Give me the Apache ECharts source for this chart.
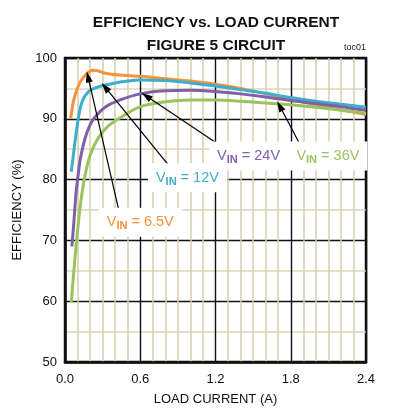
<!DOCTYPE html>
<html>
<head>
<meta charset="utf-8">
<script src="https://cdn.jsdelivr.net/npm/echarts@6/dist/echarts.min.js"></script>
<style>
html,body{margin:0;padding:0;background:#fff;}
#chart{width:395px;height:419px;}
</style>
</head>
<body>
<div id="chart"></div>
<script>
// ---- data ----
const xTicks = [0.0, 0.6, 1.2, 1.8, 2.4];
const yTicks = [50, 60, 70, 80, 90, 100];

const current6v5 = [0.045, 0.07, 0.11, 0.15, 0.19, 0.22, 0.26, 0.32, 0.44, 0.6, 0.8, 1.0, 1.2, 1.4, 1.6, 1.8, 2.0, 2.2, 2.4];
const eff6v5     = [90.0, 93.1, 95.6, 96.9, 97.7, 98.0, 97.9, 97.5, 97.2, 97.0, 96.6, 96.2, 95.7, 95.0, 94.1, 93.2, 92.3, 91.5, 90.7];

const current12 = [0.05, 0.07, 0.088, 0.11, 0.136, 0.19, 0.27, 0.38, 0.5, 0.6, 0.8, 1.0, 1.2, 1.4, 1.6, 1.8, 2.0, 2.2, 2.4];
const eff12     = [81.3, 84.6, 87.5, 90.5, 92.8, 94.5, 95.3, 95.8, 96.2, 96.4, 96.3, 95.9, 95.4, 94.8, 94.2, 93.5, 92.9, 92.4, 91.9];

const current24 = [0.055, 0.07, 0.088, 0.105, 0.123, 0.16, 0.2, 0.24, 0.32, 0.44, 0.6, 0.8, 1.0, 1.2, 1.4, 1.6, 1.8, 2.0, 2.2, 2.4];
const eff24     = [69.0, 72.8, 77.8, 80.8, 83.5, 86.8, 89.0, 90.3, 91.9, 93.1, 94.1, 94.6, 94.7, 94.5, 94.1, 93.6, 93.0, 92.5, 92.0, 91.4];

const current36 = [0.05, 0.07, 0.09, 0.11, 0.13, 0.16, 0.2, 0.27, 0.35, 0.45, 0.6, 0.8, 1.0, 1.2, 1.4, 1.6, 1.8, 2.0, 2.2, 2.4];
const eff36     = [59.8, 64.8, 69.5, 73.5, 77.0, 80.7, 84.0, 87.0, 88.9, 90.3, 92.0, 92.8, 93.1, 93.1, 92.9, 92.6, 92.3, 91.9, 91.4, 90.9];

const seriesNames = ['V_IN = 6.5V', 'V_IN = 12V', 'V_IN = 24V', 'V_IN = 36V'];
const labelValues = ['6.5V', '12V', '24V', '36V'];
// label centre (A, %) and arrow start/end (A, %)
const labelAt   = [[0.60, 73.0], [0.976, 80.3], [1.464, 83.9], [2.096, 83.9]];
const arrowFrom = [[0.432, 74.7], [0.856, 81.6], [1.288, 84.9], [1.896, 84.9]];
const arrowTo   = [[0.184, 96.9], [0.32, 95.2], [0.648, 93.75], [1.712, 92.1]];

const colors = ['#F7923C', '#3FAECE', '#7F60A8', '#9AC35D'];

function zip(xs, ys){ return xs.map((x,i)=>[x, ys[i]]); }
const dataSets = [zip(current6v5, eff6v5), zip(current12, eff12), zip(current24, eff24), zip(current36, eff36)];

const FONT = '"Liberation Sans", Arial, Helvetica, sans-serif';

function makeSeries(i){
  return {
    name: seriesNames[i],
    type: 'line',
    data: dataSets[i],
    smooth: 0.3,
    showSymbol: false,
    symbol: 'none',
    lineStyle: {color: colors[i], width: 3},
    itemStyle: {color: colors[i]},
    z: 3 + i,
    markLine: {
      silent: true,
      symbol: ['none', 'triangle'],
      symbolSize: [7, 11],
      lineStyle: {color: '#000', width: 1.2, type: 'solid'},
      label: {show: false},
      z: 10,
      data: [[{coord: arrowFrom[i]}, {coord: arrowTo[i]}]]
    }
  };
}

const order = [0, 3, 2, 1];

const chart = echarts.init(document.getElementById('chart'), null, {renderer: 'canvas'});
chart.setOption({
  animation: false,
  backgroundColor: '#fff',
  textStyle: {fontFamily: FONT},
  title: {
    text: 'EFFICIENCY vs. LOAD CURRENT\nFIGURE 5 CIRCUIT',
    left: 211,
    top: 6,
    textAlign: 'center',
    textStyle: {fontFamily: FONT, fontWeight: 'bold', fontSize: 15.5, lineHeight: 23, color: '#111'}
  },
  grid: {left: 65, right: 29, top: 58, bottom: 57, show: true, borderColor: '#111', borderWidth: 2.5, backgroundColor: 'transparent'},
  xAxis: {
    type: 'value', min: 0, max: 2.4, interval: 0.6,
    name: 'LOAD CURRENT (A)', nameLocation: 'middle', nameGap: 31,
    nameTextStyle: {fontSize: 13, color: '#111', fontFamily: FONT},
    axisLine: {show: true, lineStyle: {color: '#111', width: 2.5}},
    axisTick: {show: false},
    axisLabel: {fontSize: 13, color: '#111', margin: 11, formatter: v => v.toFixed(1)},
    splitLine: {show: true, lineStyle: {color: '#111', width: 1.4}},
    minorTick: {show: false, splitNumber: 6},
    minorSplitLine: {show: true, lineStyle: {color: '#D6CEA9', width: 1.5}}
  },
  yAxis: {
    type: 'value', min: 50, max: 100, interval: 10,
    name: 'EFFICIENCY (%)', nameLocation: 'middle', nameGap: 41, nameRotate: 90,
    nameTextStyle: {fontSize: 13, color: '#111', fontFamily: FONT},
    axisLine: {show: true, lineStyle: {color: '#111', width: 2.5}},
    axisTick: {show: false},
    axisLabel: {fontSize: 13, color: '#111', margin: 8},
    splitLine: {show: true, lineStyle: {color: '#111', width: 1.4}},
    minorTick: {show: false, splitNumber: 2},
    minorSplitLine: {show: true, lineStyle: {color: '#DCD6BC', width: 1.5}}
  },
  series: order.map(makeSeries)
});

// annotation labels placed through the chart's own coordinate conversion
const gfx = [{
  type: 'text', right: 29, top: 43, z: 100,
  style: {text: 'toc01', font: '9px ' + FONT, fill: '#222'}
}];
labelAt.forEach((c, i) => {
  const p = chart.convertToPixel({gridIndex: 0}, c);
  gfx.push({
    type: 'text', x: p[0], y: p[1], z: 120,
    style: {
      text: '{v|V}{s|IN}{v| = ' + labelValues[i] + '}',
      align: 'center', verticalAlign: 'middle',
      backgroundColor: '#fff',
      padding: [7, 8, 4, 8],
      rich: {
        v: {fontFamily: FONT, fontSize: 14.5, fill: colors[i], lineHeight: 18, verticalAlign: 'top'},
        s: {fontFamily: FONT, fontSize: 11, fontWeight: 'bold', fill: colors[i], lineHeight: 18, padding: [6, 0, 0, 0], verticalAlign: 'top'}
      }
    }
  });
});
chart.setOption({graphic: gfx});
</script>
</body>
</html>
